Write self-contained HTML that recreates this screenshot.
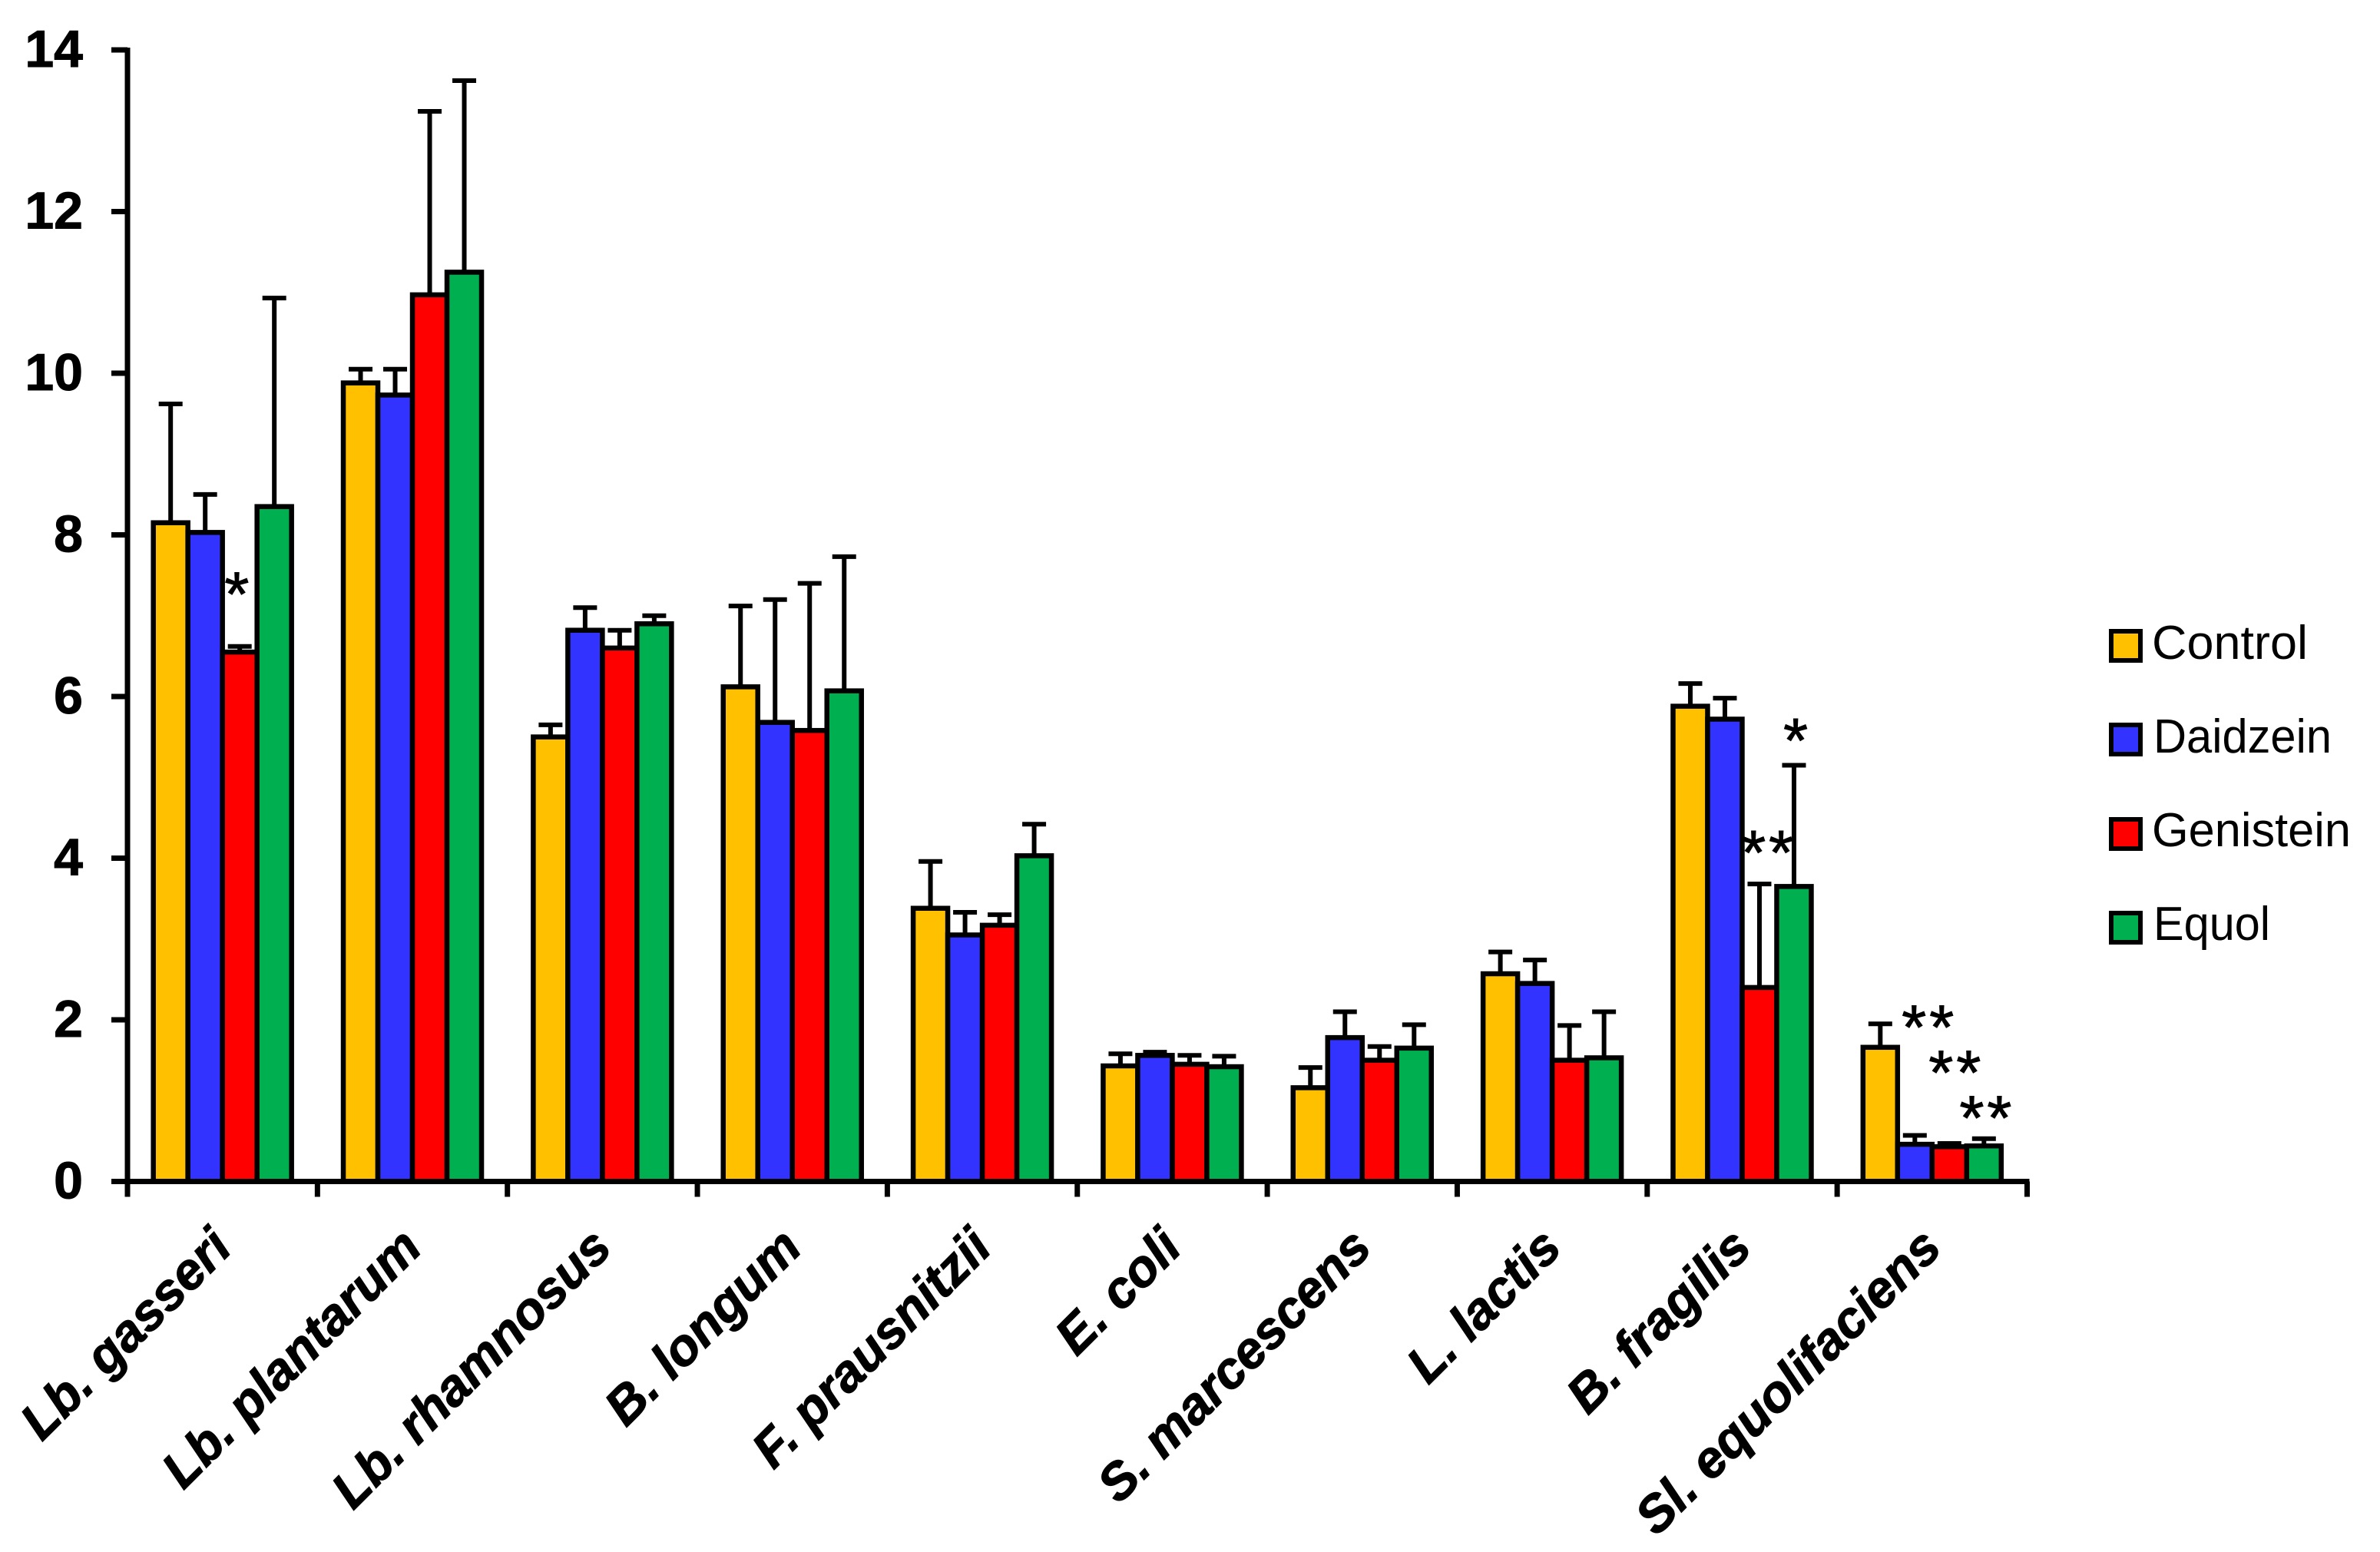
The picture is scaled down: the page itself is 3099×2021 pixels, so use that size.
<!DOCTYPE html>
<html>
<head>
<meta charset="utf-8">
<title>Bacterial growth by isoflavone treatment</title>
<style>
html,body{margin:0;padding:0;background:#fff;}
svg{display:block;}
text{font-family:"Liberation Sans",Arial,sans-serif;fill:#000;}
</style>
</head>
<body>
<svg id="chart" xmlns="http://www.w3.org/2000/svg" width="3099" height="2021" viewBox="0 0 3099 2021">
  <rect x="0" y="0" width="3099" height="2021" fill="#fff"/>
  <g id="marks"></g>
  <g id="axes"></g>
  <g id="stars"></g>
  <g>
    <g>
      <rect x="2749" y="822" width="38" height="38" fill="#FFC000" stroke="#000" stroke-width="6"/>
      <text x="2802" y="858" font-size="62" textLength="203" lengthAdjust="spacingAndGlyphs">Control</text>
    </g>
    <g>
      <rect x="2749" y="944" width="38" height="38" fill="#3333FF" stroke="#000" stroke-width="6"/>
      <text x="2804" y="980" font-size="62" textLength="232" lengthAdjust="spacingAndGlyphs">Daidzein</text>
    </g>
    <g>
      <rect x="2749" y="1067" width="38" height="38" fill="#FF0000" stroke="#000" stroke-width="6"/>
      <text x="2802" y="1102" font-size="62" textLength="259" lengthAdjust="spacingAndGlyphs">Genistein</text>
    </g>
    <g>
      <rect x="2749" y="1189" width="38" height="38" fill="#00B050" stroke="#000" stroke-width="6"/>
      <text x="2804" y="1224" font-size="62" textLength="152" lengthAdjust="spacingAndGlyphs">Equol</text>
    </g>
  </g>
</svg>
<script>
const categories = ["Lb. gasseri","Lb. plantarum","Lb. rhamnosus","B. longum","F. prausnitzii","E. coli","S. marcescens","L. lactis","B. fragilis","Sl. equolifaciens"];
const seriesNames = ["control","daidzein","genistein","equol"];
const seriesColors = ["#FFC000","#3333FF","#FF0000","#00B050"];
const controlValues   = [8.15,9.88,5.50,6.12,3.38,1.43,1.16,2.57,5.88,1.66];
const daidzeinValues  = [8.03,9.73,6.82,5.68,3.05,1.56,1.78,2.45,5.72,0.46];
const genisteinValues = [6.55,10.97,6.60,5.58,3.17,1.45,1.50,1.50,2.40,0.43];
const equolValues     = [8.35,11.25,6.90,6.07,4.03,1.42,1.65,1.53,3.65,0.44];
const controlErrors   = [1.47,0.17,0.15,1.00,0.58,0.15,0.25,0.27,0.28,0.29];
const daidzeinErrors  = [0.47,0.32,0.28,1.52,0.28,0.04,0.32,0.29,0.26,0.11];
const genisteinErrors = [0.07,2.27,0.22,1.82,0.13,0.11,0.17,0.43,1.28,0.04];
const equolErrors     = [2.58,2.37,0.10,1.66,0.39,0.13,0.29,0.57,1.50,0.09];
const yTicks = [0,2,4,6,8,10,12,14];
const starLabels = ["*","*","**","**","**","**"];
const starGroups = [0,8,8,9,9,9];
const starSlots  = [1.96,3.09,2.27,1.42,2.2,3.09];
const starLevels = [7.37,5.56,4.17,2.01,1.45,0.89];

const allValues = [controlValues,daidzeinValues,genisteinValues,equolValues];
const allErrors = [controlErrors,daidzeinErrors,genisteinErrors,equolErrors];
const NS = "http://www.w3.org/2000/svg";
const axisX = 166, axisY = 1538.5, unitH = 105.25, groupW = 247.35, barW = 45;
const groupPad = (groupW - 4 * barW) / 2;
const yScale = v => axisY - v * unitH;
const groupLeft = g => axisX + g * groupW;
const barLeft = (g, s) => groupLeft(g) + groupPad + s * barW;
const barCenter = (g, s) => barLeft(g, s) + barW / 2;

function mk(tag, attrs, parent){
  const el = document.createElementNS(NS, tag);
  for (const k in attrs) el.setAttribute(k, attrs[k]);
  parent.appendChild(el);
  return el;
}
const marks = document.getElementById("marks");
const axes = document.getElementById("axes");
const stars = document.getElementById("stars");

seriesNames.forEach((name, s) => {
  categories.forEach((cat, g) => {
    const v = allValues[s][g], e = allErrors[s][g];
    const cx = barCenter(g, s);
    const err = mk("path", {d:`M${cx} ${yScale(v)}V${yScale(v + e)}M${cx - 15.5} ${yScale(v + e)}H${cx + 15.5}`, stroke:"#000", "stroke-width":6, fill:"none"}, marks);
    
    
  });
});
seriesNames.forEach((name, s) => {
  categories.forEach((cat, g) => {
    const v = allValues[s][g];
    const bar = mk("rect", {x:barLeft(g, s), y:yScale(v), width:barW, height:axisY - yScale(v), fill:seriesColors[s], stroke:"#000", "stroke-width":6.5}, marks);
    
    
  });
});

const yLine = mk("line", {x1:axisX, x2:axisX, y1:yScale(14) - 3, y2:axisY + 3, stroke:"#000", "stroke-width":7}, axes);


const xLine = mk("line", {x1:axisX - 21, x2:groupLeft(categories.length) + 3, y1:axisY, y2:axisY, stroke:"#000", "stroke-width":7}, axes);



yTicks.forEach(t => {
  const tick = mk("line", {x1:axisX - 21, x2:axisX, y1:yScale(t), y2:yScale(t), stroke:"#000", "stroke-width":7}, axes);
  
  
  const lab = mk("text", {x:108, y:yScale(t) + 22, "text-anchor":"end", "font-size":68, "font-weight":"bold", stroke:"#000", "stroke-width":1}, axes);
  lab.textContent = String(t);
  
  
});

for (let i = 0; i <= categories.length; i++) {
  const tick = mk("line", {x1:groupLeft(i), x2:groupLeft(i), y1:axisY, y2:axisY + 20, stroke:"#000", "stroke-width":7}, axes);
  
  
}
categories.forEach((cat, g) => {
  const ax = groupLeft(g) + groupW / 2 + 15, ay = 1628;
  const lab = mk("text", {x:ax, y:ay, "text-anchor":"end", "font-size":67, "font-weight":"bold", "font-style":"italic", stroke:"#000", "stroke-width":1.2, transform:`rotate(-45 ${ax} ${ay})`}, axes);
  lab.textContent = cat;
  
  
});

starLabels.forEach((txt, i) => {
  const cx = barLeft(starGroups[i], 0) + (starSlots[i] + 0.5) * barW;
  const st = mk("text", {x:cx, y:yScale(starLevels[i]) + 39, "text-anchor":"middle", "font-size":82, "letter-spacing":"4", stroke:"#000", "stroke-width":1}, stars);
  st.textContent = txt;
  
  
});
</script>
</body>
</html>
